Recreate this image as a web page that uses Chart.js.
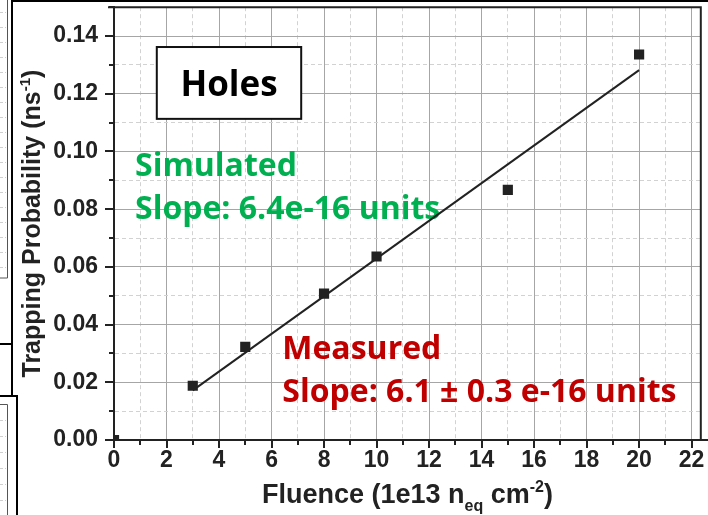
<!DOCTYPE html>
<html>
<head>
<meta charset="utf-8">
<script src="https://cdn.jsdelivr.net/npm/chart.js@4/dist/chart.umd.min.js"></script>
<style>
  html, body { margin: 0; padding: 0; background: #fff; }
  #wrap { width: 708px; height: 515px; }
</style>
</head>
<body>
<div id="wrap"><canvas id="c" width="708" height="515"></canvas></div>
<script>
// Measured hole trapping probability vs. fluence
const fluence  = [0, 3, 5, 8, 10, 15, 20];
const trapping = [0, 0.0188, 0.0323, 0.0507, 0.0636, 0.0867, 0.1336];

// Linear fit through the measured points (end points of the drawn segment)
const fitFluence  = [3, 20];
const fitTrapping = [0.0172, 0.1282];

// Axis tick labels (major ticks only)
const xTickLabels = ['0', '2', '4', '6', '8', '10', '12', '14', '16', '18', '20', '22'];
const yTickLabels = ['0.00', '0.02', '0.04', '0.06', '0.08', '0.10', '0.12', '0.14'];

const INK = '#222222';
const AXIS_FONT_FAMILY = '"Liberation Sans", Arial, sans-serif';
const NOTE_FAMILY = '"Open Sans", Lato, sans-serif';

const hundredths = v => Math.round(v * 100);
const unitsOf = v => Math.round(v);

// Draws a run of text pieces (with sub/superscripts) centred on (cx, cy)
function drawRich(ctx, pieces, cx, cy, angle) {
  ctx.save();
  ctx.translate(cx, cy);
  ctx.rotate(angle);
  ctx.textBaseline = 'alphabetic';
  ctx.textAlign = 'left';
  let total = 0;
  pieces.forEach(p => { ctx.font = p.font; p.w = ctx.measureText(p.t).width; total += p.w; });
  let x = -total / 2;
  pieces.forEach(p => {
    ctx.font = p.font;
    ctx.fillStyle = INK;
    ctx.fillText(p.t, x, p.dy || 0);
    x += p.w;
  });
  ctx.restore();
}

const decorations = {
  id: 'decorations',
  beforeDatasetsDraw(chart) {
    const { ctx, scales: { x, y } } = chart;
    ctx.save();
    // "Holes" label box
    const bx0 = x.getPixelForValue(1.63), bx1 = x.getPixelForValue(7.13);
    const by0 = y.getPixelForValue(0.1362), by1 = y.getPixelForValue(0.1113);
    ctx.fillStyle = '#ffffff';
    ctx.fillRect(bx0, by0, bx1 - bx0, by1 - by0);
    ctx.strokeStyle = '#111';
    ctx.lineWidth = 2;
    ctx.strokeRect(bx0, by0, bx1 - bx0, by1 - by0);
    ctx.font = 'bold 35px ' + NOTE_FAMILY;
    ctx.fillStyle = '#000';
    ctx.textAlign = 'center';
    ctx.textBaseline = 'alphabetic';
    ctx.fillText('Holes', (bx0 + bx1) / 2, y.getPixelForValue(0.1193));

    // Simulated / measured slope notes
    ctx.textAlign = 'left';
    ctx.font = 'bold 32px ' + NOTE_FAMILY;
    ctx.fillStyle = '#00B050';
    ctx.fillText('Simulated', x.getPixelForValue(0.8), y.getPixelForValue(0.0916));
    ctx.fillText('Slope: 6.4e-16 units', x.getPixelForValue(0.8), y.getPixelForValue(0.0767));
    ctx.fillStyle = '#C00000';
    ctx.fillText('Measured', x.getPixelForValue(6.41), y.getPixelForValue(0.0280));
    ctx.fillText('Slope: 6.1 \u00B1 0.3 e-16 units', x.getPixelForValue(6.41), y.getPixelForValue(0.0131));
    ctx.restore();
  },
  afterDraw(chart) {
    const { ctx, chartArea: a, scales: { x, y } } = chart;
    ctx.save();
    ctx.strokeStyle = INK;
    ctx.lineCap = 'butt';

    // Tick marks: long at labelled values, short in between
    ctx.lineWidth = 2;
    y.ticks.forEach(t => {
      const py = Math.round(y.getPixelForValue(t.value));
      const len = hundredths(t.value) % 2 === 0 ? 9 : 5;
      ctx.beginPath(); ctx.moveTo(a.left, py); ctx.lineTo(a.left - len, py); ctx.stroke();
    });
    x.ticks.forEach(t => {
      const px = Math.round(x.getPixelForValue(t.value));
      const len = unitsOf(t.value) % 2 === 0 ? 8 : 5;
      ctx.beginPath(); ctx.moveTo(px, a.bottom); ctx.lineTo(px, a.bottom + len); ctx.stroke();
    });

    // Frame on the top and right of the plot; x axis line runs on to the edge
    ctx.beginPath();
    ctx.moveTo(a.left - 6, a.top); ctx.lineTo(a.right, a.top); ctx.lineTo(a.right, a.bottom);
    ctx.moveTo(a.right, a.bottom); ctx.lineTo(chart.width, a.bottom);
    ctx.stroke();

    // Axis titles
    drawRich(ctx, [
      { t: 'Trapping Probability (ns', font: 'bold 25px ' + AXIS_FONT_FAMILY },
      { t: '-1', font: 'bold 15px ' + AXIS_FONT_FAMILY, dy: -10 },
      { t: ')', font: 'bold 25px ' + AXIS_FONT_FAMILY }
    ], 40, (a.top + a.bottom) / 2, -Math.PI / 2);
    drawRich(ctx, [
      { t: 'Fluence (1e13 n', font: 'bold 27px ' + AXIS_FONT_FAMILY },
      { t: 'eq', font: 'bold 16px ' + AXIS_FONT_FAMILY, dy: 8 },
      { t: ' cm', font: 'bold 27px ' + AXIS_FONT_FAMILY },
      { t: '-2', font: 'bold 16px ' + AXIS_FONT_FAMILY, dy: -11 },
      { t: ')', font: 'bold 27px ' + AXIS_FONT_FAMILY }
    ], (a.left + a.right) / 2, 503, 0);

    // Slide frame edges along the left side
    ctx.strokeStyle = '#000';
    ctx.lineWidth = 2;
    ctx.beginPath();
    ctx.moveTo(12, 1); ctx.lineTo(708, 1);
    ctx.moveTo(12, 0); ctx.lineTo(12, 397);
    ctx.moveTo(0, 344); ctx.lineTo(12, 344);
    ctx.moveTo(0, 396); ctx.lineTo(17, 396); ctx.lineTo(17, 515);
    ctx.stroke();
    ctx.lineWidth = 1;
    ctx.strokeStyle = '#555';
    ctx.beginPath();
    ctx.moveTo(7.5, 0); ctx.lineTo(7.5, 278); ctx.lineTo(0, 278);
    ctx.moveTo(0, 404.5); ctx.lineTo(7.5, 404.5); ctx.lineTo(7.5, 515);
    ctx.stroke();
    ctx.strokeStyle = '#cfcfcf';
    ctx.setLineDash([3, 2]);
    ctx.beginPath();
    for (let yy = 12.5; yy < 270; yy += 15) { ctx.moveTo(0, yy); ctx.lineTo(6, yy); }
    for (let yy = 420.5; yy < 515; yy += 16) { ctx.moveTo(0, yy); ctx.lineTo(6, yy); }
    ctx.stroke();
    ctx.restore();
  }
};

const gridColor = (ctx, isMajor) => {
  if (!ctx.tick) return 'rgba(0,0,0,0)';
  if (ctx.tick.value === 0) return 'rgba(0,0,0,0)';
  return isMajor(ctx.tick.value) ? '#a6a6a6' : '#d2d2d2';
};

const tickFont = { family: AXIS_FONT_FAMILY, size: 23, weight: 'bold' };

new Chart(document.getElementById('c'), {
  type: 'scatter',
  data: {
    datasets: [
      {
        label: 'Measured',
        data: fluence.map((f, i) => ({ x: f, y: trapping[i] })),
        pointStyle: 'rect',
        pointRadius: 7.2,
        pointHoverRadius: 7.2,
        backgroundColor: INK,
        borderColor: INK,
        borderWidth: 0,
        showLine: false,
        clip: 0
      },
      {
        label: 'Fit',
        data: fitFluence.map((f, i) => ({ x: f, y: fitTrapping[i] })),
        showLine: true,
        borderColor: INK,
        borderWidth: 2,
        pointRadius: 0,
        fill: false
      }
    ]
  },
  options: {
    responsive: false,
    devicePixelRatio: 1,
    animation: false,
    events: [],
    layout: { padding: { left: 0, top: 6, right: 4, bottom: 0 } },
    plugins: { legend: { display: false }, tooltip: { enabled: false } },
    scales: {
      x: {
        type: 'linear',
        min: 0,
        max: 22.35,
        afterFit: s => { s.height = 75; s.paddingLeft = 0; s.paddingRight = 0; },
        ticks: {
          stepSize: 1,
          includeBounds: false,
          autoSkip: false,
          maxRotation: 0,
          padding: 7,
          color: INK,
          font: tickFont,
          callback: v => (unitsOf(v) % 2 === 0 ? xTickLabels[unitsOf(v) / 2] : '')
        },
        grid: {
          drawTicks: false,
          lineWidth: 1,
          color: ctx => gridColor(ctx, v => unitsOf(v) % 2 === 0)
        },
        border: {
          color: INK,
          width: 2,
          dash: ctx => (ctx.tick && unitsOf(ctx.tick.value) % 2 !== 0 ? [4, 3] : [])
        }
      },
      y: {
        type: 'linear',
        min: 0,
        max: 0.15,
        afterFit: s => { s.width = 114; s.paddingTop = 0; s.paddingBottom = 0; },
        ticks: {
          stepSize: 0.01,
          includeBounds: false,
          autoSkip: false,
          padding: 16,
          color: INK,
          font: tickFont,
          callback: v => (hundredths(v) % 2 === 0 ? yTickLabels[hundredths(v) / 2] : '')
        },
        grid: {
          drawTicks: false,
          lineWidth: 1,
          color: ctx => gridColor(ctx, v => hundredths(v) % 2 === 0)
        },
        border: {
          color: INK,
          width: 2,
          dash: ctx => (ctx.tick && hundredths(ctx.tick.value) % 2 !== 0 ? [4, 3] : [])
        }
      }
    }
  },
  plugins: [decorations]
});
</script>
</body>
</html>
